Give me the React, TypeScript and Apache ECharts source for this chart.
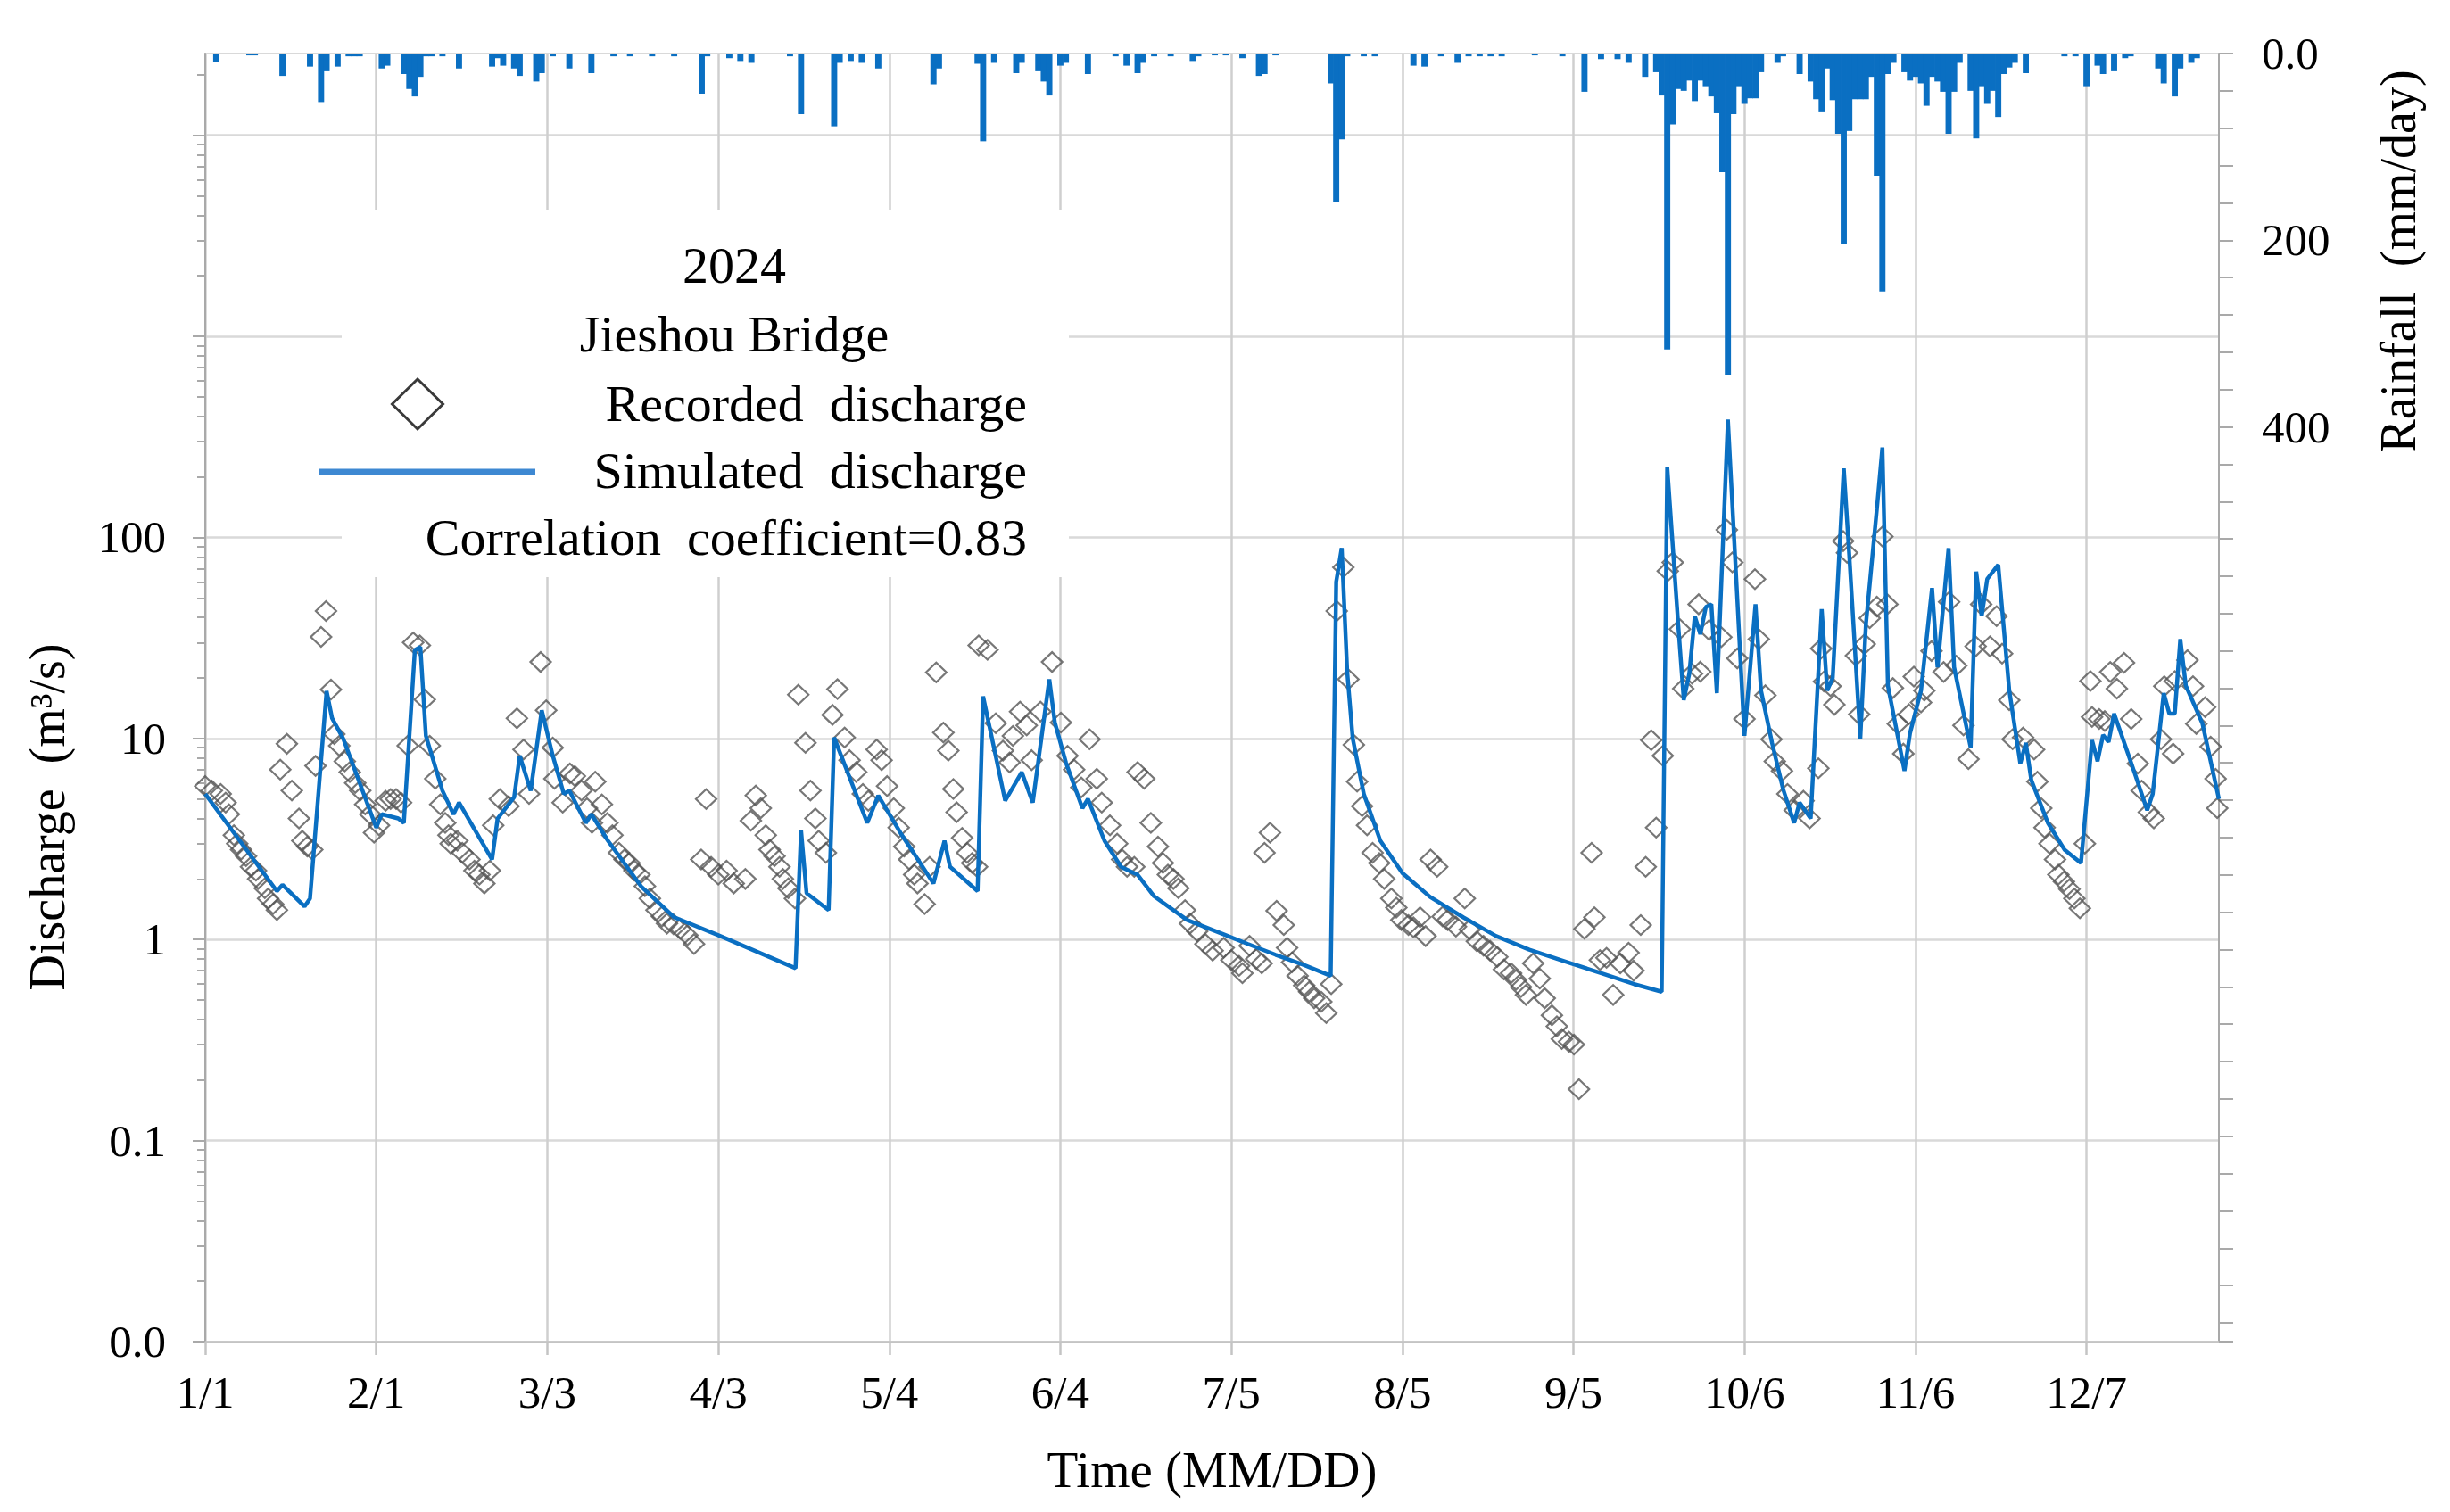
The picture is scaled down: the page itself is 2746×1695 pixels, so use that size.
import { useEffect, useRef } from "react";
import * as echarts from "echarts";

// day index from 2024-01-01 (0) to 2024-12-31 (365)
const xTickDays = [0, 31, 62, 93, 124, 155, 186, 217, 248, 279, 310, 341];
const qLabels = [0.01, 0.1, 1, 10, 100];
const qMajor = [0.01, 0.1, 1, 10, 100, 1000, 10000];
const rainLabels = [0, 200, 400];

// simulated discharge (m3/s)
const simDays = [0, 13, 14, 18, 19, 22, 23, 25, 31, 32, 35, 36, 38, 39, 40, 43, 45, 46, 52, 53, 56, 57, 59, 61, 63, 65, 66, 69, 70, 73, 79, 85, 93, 100, 107, 108, 109, 113, 114, 120, 122, 126, 132, 134, 135, 140, 141, 142, 145, 148, 150, 153, 154, 156, 159, 160, 163, 166, 169, 172, 178, 185, 189, 194, 199, 204, 205, 206, 207, 208, 210, 213, 217, 222, 228, 234, 240, 247, 253, 259, 264, 265, 267, 268, 269, 270, 271, 272, 273, 274, 276, 279, 281, 282, 284, 286, 288, 289, 291, 293, 294, 295, 297, 298, 300, 301, 303, 304, 305, 308, 309, 311, 313, 314, 316, 317, 320, 321, 322, 323, 325, 327, 329, 330, 331, 334, 337, 340, 342, 343, 344, 345, 346, 349, 352, 353, 355, 356, 357, 358, 359, 362, 365];
const simQ = [5.3, 1.74, 1.87, 1.46, 1.6, 17.2, 12.6, 10, 3.6, 4.2, 4.0, 3.8, 27.5, 28.5, 10.3, 5.5, 4.2, 4.8, 2.5, 4.0, 5.1, 8.2, 5.5, 13.8, 8.2, 5.3, 5.5, 3.8, 4.2, 3.1, 1.84, 1.29, 1.05, 0.87, 0.72, 3.5, 1.7, 1.4, 10.1, 3.8, 5.2, 3.4, 1.9, 3.1, 2.3, 1.74, 16.2, 12, 4.9, 6.8, 4.8, 19.7, 12, 7.6, 4.5, 5.0, 3.1, 2.3, 2.1, 1.64, 1.25, 1.05, 0.95, 0.84, 0.75, 0.66, 60, 88.5, 21.4, 10, 5.3, 3.1, 2.14, 1.63, 1.29, 1.04, 0.89, 0.77, 0.68, 0.6, 0.55, 225, 36.6, 15.5, 21, 40.6, 33, 45, 46.5, 16.8, 385, 10.3, 46.5, 17.3, 9.5, 5.6, 3.8, 4.8, 4.0, 44, 17.3, 20, 220, 81.6, 10, 36.6, 139, 280, 18.3, 6.9, 10.6, 17.3, 56, 22.6, 88.4, 22.6, 9.0, 67.6, 40.6, 62, 73, 17.3, 7.5, 9.5, 6.2, 3.8, 2.8, 2.4, 9.8, 7.7, 10.4, 9.6, 13.3, 7.7, 4.4, 5.3, 16.8, 13.3, 13.3, 31.2, 18.3, 11.9, 5.0];

// recorded discharge (m3/s)
const obsDays = [0, 1.2, 2.8, 3.7, 4.3, 5.2, 5.8, 6.5, 7.4, 8.3, 9.2, 9.6, 10.8, 11.4, 12.3, 13, 13.6, 14.8, 15.7, 17, 17.6, 18.5, 19.4, 20, 21, 21.9, 22.8, 23.4, 24.3, 25.3, 26.2, 27.2, 28.1, 29, 29.9, 30.6, 31.5, 32.7, 33.6, 34.6, 35.5, 36.7, 37.7, 38.9, 39.8, 40.7, 41.7, 42.6, 43.5, 44.1, 44.5, 45.7, 46.6, 47.9, 48.8, 49.7, 50.6, 51.6, 52.2, 53.4, 55, 56.5, 57.7, 58.7, 60.8, 61.8, 63, 63.3, 64.8, 66.1, 67, 68.2, 69.2, 70.1, 70.7, 71.9, 72.9, 73.8, 75, 76, 76.9, 77.8, 78.7, 79.7, 80.6, 81.8, 82.8, 83.7, 84.9, 86.1, 87.4, 88.6, 89.9, 90.8, 91.7, 93, 94.5, 95.8, 97.9, 98.9, 99.8, 100.7, 101.6, 102.3, 103.2, 104.1, 104.7, 105.7, 106.9, 107.5, 108.8, 109.7, 110.6, 111.2, 112.5, 113.7, 114.6, 115.9, 116.8, 118, 119.2, 120.2, 121.7, 122.6, 123.6, 124.8, 125.7, 126.7, 127.6, 128.5, 129.1, 130.4, 131.3, 132.5, 133.8, 134.7, 135.6, 136.2, 137.2, 138.1, 139, 139.9, 140.2, 141.8, 143.3, 144.6, 145.8, 146.4, 147.7, 148.9, 149.8, 151.4, 153.5, 155.1, 156.3, 157.5, 158.8, 160.3, 161.6, 162.5, 164, 165.3, 166.2, 167.1, 168.4, 169, 170.2, 171.4, 172.7, 173.6, 174.5, 175.5, 176.4, 177.6, 178.5, 179.8, 181.3, 182.6, 184.6, 186, 187.4, 188, 189.3, 190.5, 191.5, 192, 193, 194.2, 195.5, 196.1, 197, 198, 199.2, 200.1, 201, 202.3, 203.2, 204.1, 205.1, 206.3, 207.2, 208.2, 208.8, 209.7, 210.6, 211.6, 212.8, 213.7, 215, 215.9, 216.8, 218.1, 219, 220.2, 221.2, 222.1, 223.3, 224.3, 225.2, 226.7, 228.3, 229.2, 230.5, 231.7, 232.9, 234.2, 235.4, 236.7, 237.6, 238.5, 239.4, 240.7, 241.9, 242.8, 244.1, 245, 245.9, 247.2, 248.1, 249, 250, 251.3, 251.8, 252.8, 254, 255.2, 256.5, 258, 258.9, 260.2, 261.1, 262.1, 263, 264.2, 265.1, 266, 267.3, 267.9, 269.5, 270.7, 271, 272.6, 274.8, 275.8, 276.8, 277.7, 279, 280.9, 281.6, 282.8, 283.9, 284.5, 285.8, 286.8, 288.1, 289.7, 290.8, 292.4, 292.9, 293.4, 294.6, 295.3, 296.9, 297.6, 299.2, 299.8, 300.8, 301.7, 303, 304, 304.9, 305.9, 306.8, 307.8, 308.8, 309.7, 311, 311.6, 312.9, 315.1, 316.1, 317.4, 318.7, 319.6, 320.9, 321.9, 323.5, 324.7, 325.7, 327, 327.6, 329.5, 331.5, 332.1, 332.8, 333.4, 334.3, 335.3, 335.9, 336.9, 337.9, 338.8, 339.8, 340.7, 341.7, 342, 343.3, 344.3, 345.3, 346.5, 347.8, 349.1, 350.3, 351, 352.3, 353.2, 354.5, 355.1, 356.7, 357, 359.3, 360.3, 360.9, 362.5, 363.5, 364.4, 364.7];
const obsQ = [5.8, 5.5, 5.3, 4.8, 4.2, 3.3, 3.0, 2.8, 2.6, 2.3, 2.2, 2.0, 1.8, 1.6, 1.5, 1.4, 7.0, 9.4, 5.5, 4.0, 3.1, 2.9, 2.8, 7.3, 32, 43, 17.5, 10.5, 9.2, 7.7, 6.8, 6.0, 5.5, 4.7, 4.2, 3.4, 3.7, 4.9, 5.0, 5.0, 4.8, 9.2, 30, 29, 15.6, 9.2, 6.3, 4.7, 3.8, 3.3, 3.0, 3.1, 2.7, 2.5, 2.2, 2.1, 1.9, 2.2, 3.7, 5.0, 4.6, 12.6, 8.8, 5.3, 24, 13.8, 9.0, 6.3, 4.8, 6.7, 6.5, 5.5, 4.5, 3.8, 6.1, 4.7, 3.8, 3.3, 2.7, 2.5, 2.4, 2.2, 2.1, 1.84, 1.6, 1.4, 1.3, 1.2, 1.19, 1.13, 1.05, 0.95, 2.5, 5.0, 2.3, 2.1, 2.2, 1.9, 2.0, 3.9, 5.2, 4.5, 3.3, 2.8, 2.6, 2.3, 2.0, 1.8, 1.6, 16.5, 9.5, 5.5, 4.0, 3.1, 2.7, 13.1, 17.6, 10.1, 7.8, 6.8, 5.3, 4.9, 8.8, 7.8, 5.8, 4.5, 3.6, 2.9, 2.5, 2.1, 1.9, 1.5, 2.3, 21.3, 10.7, 8.7, 5.6, 4.3, 3.2, 2.7, 2.4, 2.3, 29, 27.6, 11.9, 8.7, 7.6, 10.3, 13.6, 11.6, 7.8, 13.6, 24, 12.0, 8.2, 7.0, 5.7, 9.9, 6.3, 4.8, 3.7, 3.0, 2.5, 2.3, 2.3, 6.8, 6.3, 3.8, 2.9, 2.4, 2.1, 2.0, 1.8, 1.4, 1.2, 1.1, 0.95, 0.88, 0.91, 0.79, 0.74, 0.68, 0.93, 0.8, 0.76, 2.7, 3.4, 1.39, 1.18, 0.91, 0.77, 0.66, 0.59, 0.55, 0.51, 0.49, 0.43, 0.6, 43, 71, 19.7, 9.3, 6.1, 4.6, 3.7, 2.7, 2.4, 2.0, 1.6, 1.44, 1.25, 1.18, 1.15, 1.29, 1.04, 2.5, 2.3, 1.3, 1.25, 1.16, 1.6, 1.12, 0.98, 0.93, 0.88, 0.82, 0.71, 0.68, 0.63, 0.58, 0.53, 0.76, 0.64, 0.51, 0.42, 0.37, 0.32, 0.31, 0.30, 0.18, 1.13, 2.7, 1.29, 0.79, 0.81, 0.53, 0.76, 0.86, 0.70, 1.18, 2.3, 9.8, 3.6, 8.2, 68, 75, 35, 17.7, 21, 46.5, 21.5, 34.6, 31.9, 109, 75, 25, 12.5, 62, 31.2, 16.4, 9.9, 7.7, 6.9, 5.3, 4.4, 4.9, 4.0, 7.1, 28, 19.2, 18.2, 14.7, 95.8, 83.8, 25.8, 13.2, 29.5, 39.6, 45.3, 101, 46.5, 17.8, 11.8, 8.4, 13.2, 20.3, 15.1, 17.3, 27.2, 21.4, 47.8, 23, 11.6, 7.9, 28.7, 46.5, 28.7, 40.6, 26.4, 15.5, 9.9, 10.1, 8.8, 6.1, 4.5, 3.6, 3.0, 2.5, 2.1, 1.94, 1.78, 1.6, 1.43, 3.0, 19.3, 12.8, 12.5, 12.2, 21.4, 17.7, 23.8, 12.5, 7.5, 5.5, 4.3, 4.0, 9.9, 18.2, 8.4, 19.3, 24.5, 18.2, 11.8, 14.3, 9.1, 6.3, 4.5];

// daily rainfall (mm/day)
const rainDays = [2, 8, 9, 14, 19, 21, 22, 24, 26, 27, 28, 32, 33, 36, 37, 38, 39, 40, 41, 43, 46, 52, 53, 54, 56, 57, 60, 61, 63, 66, 70, 74, 77, 81, 85, 90, 91, 95, 97, 99, 106, 108, 114, 115, 117, 119, 122, 132, 133, 140, 141, 143, 147, 148, 151, 152, 153, 155, 156, 160, 165, 167, 169, 170, 172, 175, 179, 180, 183, 185, 188, 191, 192, 194, 204, 205, 206, 207, 210, 212, 219, 221, 224, 227, 229, 231, 233, 235, 241, 246, 250, 253, 256, 258, 261, 263, 264, 265, 266, 267, 268, 269, 270, 271, 272, 273, 274, 275, 276, 277, 278, 279, 280, 281, 282, 285, 286, 289, 291, 292, 293, 294, 295, 296, 297, 298, 299, 300, 301, 302, 303, 304, 305, 306, 308, 309, 310, 311, 312, 313, 314, 315, 316, 317, 318, 320, 321, 322, 323, 324, 325, 326, 327, 328, 330, 337, 339, 341, 343, 344, 346, 348, 349, 354, 355, 357, 358, 360, 361];
const rainMm = [9.5, 2, 2, 24, 14, 52, 19, 14, 3, 3, 3, 16, 13, 22, 38, 46, 25, 3, 3, 3, 16, 14, 5, 13, 16, 24, 30, 21, 3, 16, 21, 3, 3, 3, 3, 43, 3, 5, 8, 10, 3, 65, 78, 10, 8, 10, 16, 33, 16, 11, 94, 10, 21, 10, 19, 30, 45, 13, 10, 22, 3, 13, 21, 10, 3, 3, 8, 3, 2, 2, 5, 24, 22, 2, 32, 159, 92, 3, 3, 3, 13, 14, 3, 10, 3, 3, 3, 3, 2, 3, 41, 6, 6, 10, 25, 20, 45, 317, 76, 38, 40, 29, 51, 29, 35, 46, 64, 127, 344, 65, 35, 54, 48, 48, 20, 10, 3, 22, 30, 49, 62, 16, 50, 86, 204, 83, 49, 49, 49, 25, 131, 255, 22, 10, 20, 29, 25, 32, 56, 25, 30, 41, 86, 41, 10, 40, 91, 35, 54, 40, 68, 22, 15, 10, 21, 3, 3, 35, 13, 22, 19, 5, 3, 16, 32, 46, 16, 10, 5];

const FONT = '"Liberation Serif", "Times New Roman", serif';
const BLUE = "#0a6fc2";
const AXIS_GREY = "#a9a9a9";

const qMinor: number[] = [];
for (let e = -2; e <= 4; e++) {
  for (let k = 2; k <= 9; k++) {
    const v = k * Math.pow(10, e);
    if (v < 25500) qMinor.push(Number(v.toPrecision(3)));
  }
}

const dayLabel = (d: number) => {
  const t = new Date(Date.UTC(2024, 0, 1 + Math.round(d)));
  return `${t.getUTCMonth() + 1}/${t.getUTCDate()}`;
};

const qLabel = (v: number) => {
  if (v < 0.05) return "0.0";
  if (v < 0.5) return "0.1";
  return String(Math.round(v));
};

const App = () => {
  const chartRef = useRef<HTMLDivElement>(null);

  useEffect(() => {
    document.body.style.margin = "0";
    const chart = echarts.init(chartRef.current!, null, { renderer: "svg" });

    chart.setOption({
      animation: false,
      backgroundColor: "#ffffff",
      grid: {
        left: 230,
        right: 259,
        top: 60,
        bottom: 191,
        show: true,
        borderColor: "#d9d9d9",
        borderWidth: 2,
        containLabel: false,
        outerBoundsMode: "none",
      },
      xAxis: {
        type: "value",
        min: 0,
        max: 365,
        interval: 31,
        name: "Time (MM/DD)",
        nameLocation: "middle",
        nameGap: 115,
        nameTextStyle: { fontFamily: FONT, fontSize: 57, color: "#000" },
        axisLine: { show: true, onZero: false, lineStyle: { color: "#c4c4c4", width: 2.5 } },
        axisTick: { show: true, customValues: xTickDays, length: 15, lineStyle: { color: "#c4c4c4", width: 2.5 } },
        axisLabel: {
          customValues: xTickDays,
          formatter: dayLabel,
          fontFamily: FONT,
          fontSize: 51,
          color: "#000",
          margin: 31,
        },
        splitLine: { show: true, lineStyle: { color: "#cfcfcf", width: 2.5 } },
      },
      yAxis: [
        {
          type: "log",
          logBase: 10,
          min: 0.01,
          max: 25500,
          position: "left",
          axisLine: { show: true, onZero: false, lineStyle: { color: AXIS_GREY, width: 2 } },
          axisTick: { show: true, customValues: qMajor, length: 14, lineStyle: { color: AXIS_GREY, width: 2 } },
          axisLabel: {
            customValues: qLabels,
            formatter: qLabel,
            fontFamily: FONT,
            fontSize: 51,
            color: "#000",
            margin: 44,
          },
          splitLine: { show: true, lineStyle: { color: "#d9d9d9", width: 2.5 } },
        },
        {
          type: "value",
          min: 0,
          max: 1380,
          interval: 40,
          inverse: true,
          position: "right",
          axisLine: { show: true, onZero: false, lineStyle: { color: AXIS_GREY, width: 2 } },
          axisTick: { show: true, length: 16, lineStyle: { color: AXIS_GREY, width: 2 } },
          axisLabel: {
            customValues: rainLabels,
            formatter: (v: number) => (v === 0 ? "0.0" : String(v)),
            fontFamily: FONT,
            fontSize: 51,
            color: "#000",
            margin: 48,
          },
          splitLine: { show: false },
        },
        {
          type: "log",
          logBase: 10,
          min: 0.01,
          max: 25500,
          position: "left",
          axisLine: { show: false },
          axisLabel: { show: false },
          splitLine: { show: false },
          axisTick: { show: true, customValues: qMinor, length: 9, lineStyle: { color: AXIS_GREY, width: 2 } },
        },
      ],
      series: [
        {
          name: "Rainfall",
          type: "bar",
          xAxisIndex: 0,
          yAxisIndex: 1,
          barWidth: 6.9,
          itemStyle: { color: BLUE },
          data: rainDays.map((d, i) => [d, rainMm[i]]),
          z: 2,
        },
        {
          name: "Recorded discharge",
          type: "scatter",
          yAxisIndex: 0,
          symbol: "diamond",
          symbolSize: [23, 22],
          itemStyle: { color: "rgba(0,0,0,0)", borderColor: "#555555", borderWidth: 2.2 },
          data: obsDays.map((d, i) => [d, obsQ[i]]),
          z: 3,
        },
        {
          name: "Simulated discharge",
          type: "line",
          yAxisIndex: 0,
          showSymbol: false,
          symbol: "none",
          lineStyle: { color: BLUE, width: 4.5 },
          itemStyle: { color: BLUE },
          data: simDays.map((d, i) => [d, simQ[i]]),
          z: 4,
        },
      ],
      graphic: [
        { type: "rect", shape: { x: 383, y: 235, width: 815, height: 412 }, style: { fill: "#ffffff" }, z: 50 },
        {
          type: "text", x: 823, y: 297, z: 51,
          style: { text: "2024", font: `58px ${FONT}`, fill: "#000", align: "center", verticalAlign: "middle" },
        },
        {
          type: "text", x: 823, y: 374, z: 51,
          style: { text: "Jieshou Bridge", font: `58px ${FONT}`, fill: "#000", align: "center", verticalAlign: "middle" },
        },
        {
          type: "polygon", z: 51,
          shape: { points: [[468, 425], [496.5, 453], [468, 481], [439.5, 453]] },
          style: { fill: "none", stroke: "#3a3a3a", lineWidth: 3 },
        },
        {
          type: "text", x: 1151, y: 452, z: 51,
          style: { text: "Recorded  discharge", font: `58px ${FONT}`, fill: "#000", align: "right", verticalAlign: "middle" },
        },
        {
          type: "line", z: 51,
          shape: { x1: 357, y1: 529, x2: 600, y2: 529 },
          style: { stroke: "#3d88d2", lineWidth: 7 },
        },
        {
          type: "text", x: 1151, y: 527, z: 51,
          style: { text: "Simulated  discharge", font: `58px ${FONT}`, fill: "#000", align: "right", verticalAlign: "middle" },
        },
        {
          type: "text", x: 1151, y: 602, z: 51,
          style: { text: "Correlation  coefficient=0.83", font: `58px ${FONT}`, fill: "#000", align: "right", verticalAlign: "middle" },
        },
        {
          type: "text", x: 53, y: 916, rotation: Math.PI / 2, z: 51,
          style: { text: "Discharge  (m³/s)", font: `56px ${FONT}`, fill: "#000", align: "center", verticalAlign: "middle" },
        },
        {
          type: "text", x: 2688, y: 293, rotation: Math.PI / 2, z: 51,
          style: { text: "Rainfall  (mm/day)", font: `56px ${FONT}`, fill: "#000", align: "center", verticalAlign: "middle" },
        },
      ],
    });

    return () => {
      chart.dispose();
    };
  }, []);

  return <div ref={chartRef} style={{ width: 2746, height: 1695 }} />;
};

export default App;
